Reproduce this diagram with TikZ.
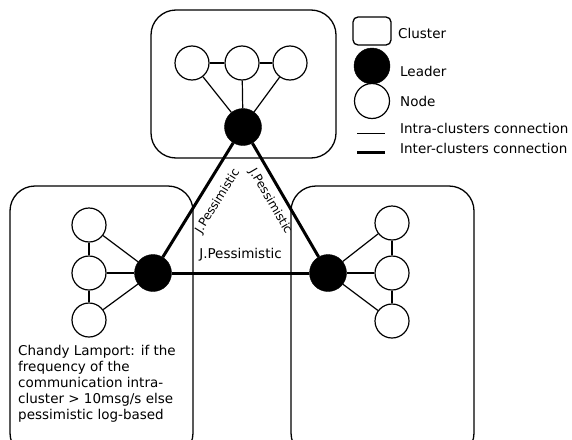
\documentclass[tikz,border=0pt]{standalone}
\usepackage{fontspec}
\setmainfont{DejaVu Sans}
\begin{document}
\begin{tikzpicture}[x=1pt,y=-1pt,font=\fontsize{13.5}{16}\selectfont]
        \tikzstyle{cluster}=[draw=black,line width=1.3pt,rounded corners=25pt]
        \tikzstyle{leader}=[circle,draw=black,fill=black,minimum size=37pt,inner sep=0pt]
        \tikzstyle{member}=[circle,draw=black,line width=1.2pt,fill=white,minimum size=34pt,inner sep=0pt]
        \tikzstyle{intra}=[draw=black, line width=1.2pt]
        \tikzstyle{inter}=[draw=black, line width=3pt]
        \tikzstyle{slope}=[sloped,inner sep=1pt,font=\fontsize{12}{14}\selectfont]
        \tikzstyle{legend}=[anchor=west,inner sep=2pt]

        \clip (0,0) rectangle (572,439);

        % clusters
        \draw[cluster] (151,10) rectangle (336,158);
        \draw[cluster] (10,186) rectangle (193,458);
        \draw[cluster] (291,186) rectangle (474,458);

        \begin{scope}
         % top cluster
         \node [member] (t1) at (192,63) {};
         \node [member] (t2) at (242,63) {};
         \node [member] (t3) at (290,63) {};
         \node [leader] (tl) at (243,127) {};

         % left cluster
         \node [member] (l1) at (89,225) {};
         \node [member] (l2) at (89,273) {};
         \node [member] (l3) at (89,320) {};
         \node [leader] (ll) at (153,273) {};

         % right cluster
         \node [member] (r1) at (392,223) {};
         \node [member] (r2) at (392,273) {};
         \node [member] (r3) at (392,321) {};
         \node [leader] (rl) at (328,273) {};

         \path[intra] (t1) edge (t2);
         \path[intra] (t2) edge (t3);
         \path[intra] (t1) edge (tl);
         \path[intra] (t2) edge (tl);
         \path[intra] (t3) edge (tl);

         \path[intra] (l1) edge (l2);
         \path[intra] (l2) edge (l3);
         \path[intra] (l1) edge (ll);
         \path[intra] (l2) edge (ll);
         \path[intra] (l3) edge (ll);

         \path[intra] (r1) edge (r2);
         \path[intra] (r2) edge (r3);
         \path[intra] (r1) edge (rl);
         \path[intra] (r2) edge (rl);
         \path[intra] (r3) edge (rl);

         \path[inter] (ll) edge node[slope,pos=0.57,below=9pt]{J.Pessimistic} (tl);
         \path[inter] (tl) edge node[slope,pos=0.45,below=5.5pt]{J.Pessimistic} (rl);
         \path[inter] (ll) edge node[above=9pt,inner sep=1pt]{J.Pessimistic} (rl);
        \end{scope}

        \node [anchor=north west,align=left,inner sep=0pt] (note) at (18,345)
          {Chandy Lamport: if the\\frequency of the\\communication intra-\\cluster > 10msg/s else\\pessimistic log-based};

        % legend
        \draw[draw=black,line width=1.3pt,rounded corners=5pt] (353,17) rectangle (391,45);
        \node [leader,minimum size=36pt] (kl) at (372,66) {};
        \node [member,minimum size=35pt] (kn) at (372,101) {};
        \coordinate (ia) at (357,133);
        \coordinate (ib) at (385,133);
        \coordinate (ea) at (357,152);
        \coordinate (eb) at (385,152);
        \draw[draw=black,line width=0.8pt] (ia) -- (ib);
        \draw[inter] (ea) -- (eb);

        \node [legend] (kc) at (396,33) {Cluster};
        \node [legend] (klt) at (398,71) {Leader};
        \node [legend] (knt) at (398,101) {Node};
        \node [legend] (kit) at (398,128) {Intra-clusters connection};
        \node [legend] (ket) at (398,148) {Inter-clusters connection};
\end{tikzpicture}
\end{document}
